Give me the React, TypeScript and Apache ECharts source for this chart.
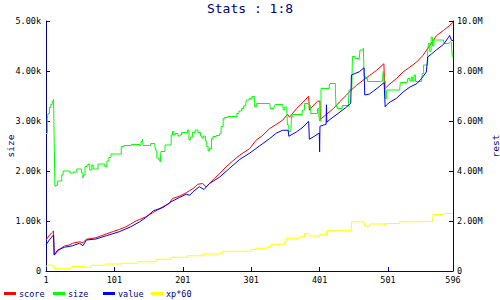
import React, { useEffect, useRef } from "react";
import * as echarts from "echarts";

// x positions are sample indices (1..596)
// size (left axis, thousands)
const sizeData: [number, number][] = [
  [1, 2.75], [3, 3.05], [4, 3.15], [6, 3.27], [8, 3.33], [10, 3.4], [12, 3.43], [13, 2.55], [14, 1.7],
  [16, 1.72], [18, 1.8], [24, 1.92], [26, 2.0], [36, 1.96], [41, 1.98], [46, 2.04], [53, 1.96], [55, 1.86],
  [56, 1.92], [58, 2.09], [61, 2.12], [63, 2.14], [65, 2.02], [68, 2.12], [70, 2.04], [77, 2.14], [87, 2.09],
  [90, 2.2], [93, 2.27], [96, 2.34], [111, 2.49], [115, 2.51], [126, 2.53], [138, 2.51], [140, 2.59],
  [142, 2.64], [143, 2.51], [154, 2.55], [160, 2.52], [161, 2.42], [163, 2.26], [166, 2.22], [168, 2.18],
  [169, 2.39], [175, 2.52], [184, 2.72], [186, 2.79], [188, 2.72], [190, 2.75], [194, 2.7], [197, 2.72],
  [199, 2.77], [208, 2.82], [210, 2.62], [212, 2.68], [215, 2.77], [219, 2.82], [223, 2.77], [227, 2.7],
  [229, 2.66], [231, 2.7], [234, 2.6], [236, 2.49], [238, 2.4], [240, 2.45], [243, 2.65], [245, 2.69],
  [250, 2.71], [255, 2.75], [257, 2.89], [260, 3.05], [262, 3.07], [267, 3.09], [280, 3.15], [283, 3.2],
  [287, 3.25], [290, 3.3], [293, 3.35], [294, 3.42], [298, 3.45], [302, 3.49], [306, 3.29], [309, 3.35],
  [328, 3.35], [329, 3.25], [334, 3.25], [335, 3.31], [336, 3.33], [347, 3.33], [348, 3.22], [350, 3.28],
  [353, 3.22], [354, 2.92], [356, 2.79], [359, 2.82], [360, 3.09], [362, 3.13], [375, 3.11], [376, 3.22],
  [379, 3.35], [384, 3.33], [386, 3.31], [388, 3.15], [396, 3.15], [398, 3.25], [400, 3.1], [401, 3.0],
  [403, 3.65], [415, 3.7], [416, 3.75], [422, 3.75], [424, 3.62], [425, 3.29], [427, 3.25], [434, 3.31],
  [443, 3.29], [444, 3.62], [448, 3.62], [449, 4.29], [453, 4.25], [459, 4.25], [460, 4.42], [465, 4.46],
  [466, 3.89], [468, 3.85], [471, 3.79], [490, 3.8], [493, 3.85], [494, 3.99], [495, 3.8], [497, 3.45],
  [499, 3.62], [518, 3.62], [519, 3.77], [529, 3.77], [530, 3.85], [533, 3.8], [535, 3.88], [537, 3.8],
  [539, 3.92], [541, 3.79], [550, 3.79], [551, 3.95], [553, 4.12], [557, 4.12], [559, 4.39], [560, 4.55],
  [562, 4.39], [564, 4.68], [566, 4.5], [568, 4.62], [582, 4.62], [583, 4.55], [590, 4.55], [591, 4.58],
  [593, 4.57], [594, 4.45], [595, 4.29], [596, 4.31],
];

// score (right axis, millions)
const scoreData: [number, number][] = [
  [1, 1.24], [5, 1.4], [9, 1.52], [12, 1.6], [13, 0.64], [18, 0.77], [23, 0.91], [28, 1.0], [35, 1.04],
  [40, 1.11], [50, 1.17], [55, 1.13], [60, 1.27], [74, 1.33], [89, 1.48], [98, 1.57], [108, 1.66],
  [118, 1.77], [125, 1.88], [133, 2.01], [138, 2.06], [147, 2.17], [157, 2.33], [164, 2.44], [172, 2.57],
  [181, 2.7], [186, 2.9], [196, 2.99], [206, 3.13], [216, 3.3], [223, 3.47], [230, 3.5], [235, 3.37],
  [240, 3.5], [247, 3.7], [255, 3.9], [264, 4.16], [274, 4.4], [284, 4.63], [299, 4.9], [308, 5.23],
  [318, 5.43], [328, 5.7], [338, 5.87], [347, 6.03], [354, 6.27], [357, 6.15], [367, 6.49], [377, 6.76],
  [385, 6.99], [386, 6.43], [391, 6.6], [398, 6.79], [401.5, 6.8], [402, 6.06], [411, 6.27], [421, 6.49],
  [430, 6.76], [440, 7.03], [447, 7.23], [455, 7.43], [464, 7.62], [474, 7.82], [484, 8.02], [495, 8.29],
  [496, 7.29], [504, 7.49], [513, 7.69], [523, 7.96], [533, 8.16], [543, 8.36], [552, 8.62], [562, 9.02],
  [572, 9.42], [582, 9.62], [591, 9.82], [596, 9.95],
];

// value (right axis, millions)
const valueData: [number, number][] = [
  [1, 1.04], [6, 1.25], [12, 1.44], [13, 0.64], [18, 0.84], [28, 0.95], [40, 1.01], [50, 1.11], [55, 1.01],
  [60, 1.24], [74, 1.28], [89, 1.41], [108, 1.57], [125, 1.77], [138, 1.97], [147, 2.14], [158, 2.41],
  [172, 2.54], [184, 2.77], [196, 2.94], [206, 3.07], [211, 3.03], [216, 3.17], [225, 3.37], [232, 3.26],
  [240, 3.5], [255, 3.76], [269, 4.1], [284, 4.46], [299, 4.72], [308, 4.9], [318, 5.1], [328, 5.3],
  [338, 5.52], [347, 5.63], [355, 5.63], [356, 5.39], [367, 5.56], [377, 5.76], [385, 5.99], [386, 5.27],
  [394, 5.4], [400.5, 5.52], [401, 4.76], [401.5, 5.79], [408, 5.85], [410.5, 5.87], [411, 6.65],
  [411.5, 5.95], [416, 6.06], [425, 6.24], [439, 6.53], [446.5, 6.71], [447.5, 7.84], [459, 7.97],
  [466, 8.13], [467, 7.04], [474, 7.08], [488, 7.37], [495.3, 7.54], [496.8, 6.57], [499, 6.65], [504, 6.76],
  [513, 6.9], [523, 7.16], [533, 7.36], [543, 7.49], [550, 7.7], [557, 7.96], [559, 8.56], [565, 8.69],
  [572, 8.85], [582, 9.06], [589, 9.33], [591, 9.42], [594, 9.22], [596, 9.22],
];

// xp*60 (right axis, millions)
const xpData: [number, number][] = [
  [1, 0.2], [4, 0.24], [10, 0.2], [13, 0.11], [38, 0.11], [39, 0.18], [55, 0.2], [58, 0.15], [67, 0.23],
  [89, 0.28], [111, 0.31], [135, 0.37], [162, 0.47], [184, 0.55], [208, 0.61], [230, 0.68], [255, 0.73],
  [260, 0.79], [301, 0.87], [308, 0.91], [325, 0.97], [330, 1.07], [350, 1.17], [352, 1.31], [372, 1.37],
  [379, 1.5], [385, 1.5], [386, 1.4], [401, 1.45], [411, 1.61], [447, 1.61], [448, 1.97], [466, 1.97],
  [467, 1.8], [474, 1.88], [494, 1.9], [496, 1.84], [498, 1.9], [518, 1.97], [540, 1.98], [566, 1.98],
  [567, 2.26], [582, 2.3], [596, 2.31],
];

const seriesNames = ["score", "size", "value", "xp*60"];
const seriesColors = ["#ff0000", "#00ff00", "#0000ff", "#ffff00"];
const titleText = "Stats : 1:8";
const leftAxisName = "size";
const rightAxisName = "rest";

const NAVY = "#000080";
const MONO = "DejaVu Sans Mono, monospace";

const toXY = (d: [number, number][]) => d.map(([i, v]) => [i - 1, v]);

export default function App() {
  const ref = useRef<HTMLDivElement>(null);
  useEffect(() => {
    if (!ref.current) return;
    const chart = echarts.init(ref.current, undefined, { renderer: "svg" });
    const legendLefts = [4, 53, 103, 151];
    chart.setOption({
      animation: false,
      backgroundColor: "#ffffff",
      title: {
        text: titleText,
        left: "center",
        top: 0,
        padding: [2, 0, 0, 0],
        textStyle: { fontFamily: MONO, fontSize: 13, fontWeight: "normal", color: NAVY },
      },
      legend: seriesNames.map((n, i) => ({
        data: [n],
        left: legendLefts[i],
        top: 289,
        padding: 0,
        icon: "rect",
        itemWidth: 12,
        itemHeight: 3,
        itemGap: 0,
        selectedMode: false,
        textStyle: { fontFamily: MONO, fontSize: 8.5, color: NAVY, padding: [0, 0, 0, -2] },
      })),
      grid: { left: 46, right: 47, top: 21, bottom: 29, containLabel: false, outerBoundsMode: "none" },
      xAxis: {
        type: "value",
        min: 0,
        max: 595,
        interval: 100,
        axisLine: { show: true, lineStyle: { color: NAVY, width: 1 } },
        axisTick: { show: true, inside: true, length: 4, lineStyle: { color: NAVY } },
        splitLine: { show: false },
        axisLabel: {
          margin: 4,
          fontFamily: MONO,
          fontSize: 8.5,
          color: "#000",
          formatter: (v: number) => String(v + 1),
        },
      },
      yAxis: [
        {
          type: "value",
          min: 0,
          max: 5,
          interval: 1,
          position: "left",
          name: leftAxisName,
          nameLocation: "middle",
          nameRotate: 90,
          nameGap: 31,
          nameMoveOverlap: false,
          nameTextStyle: { fontFamily: MONO, fontSize: 9.5, color: NAVY },
          axisLine: { show: true, lineStyle: { color: NAVY, width: 1 } },
          axisTick: { show: true, inside: true, length: 4, lineStyle: { color: NAVY } },
          splitLine: { show: false },
          axisLabel: {
            margin: 5,
            fontFamily: MONO,
            fontSize: 8.5,
            color: "#000",
            formatter: (v: number) => (v === 0 ? "0" : v.toPrecision(3) + "k"),
          },
        },
        {
          type: "value",
          min: 0,
          max: 10,
          interval: 2,
          position: "right",
          name: rightAxisName,
          nameLocation: "middle",
          nameRotate: 90,
          nameGap: 37,
          nameMoveOverlap: false,
          nameTextStyle: { fontFamily: MONO, fontSize: 9.5, color: NAVY },
          axisLine: { show: true, lineStyle: { color: NAVY, width: 1 } },
          axisTick: { show: true, inside: true, length: 4, lineStyle: { color: NAVY } },
          splitLine: { show: false },
          axisLabel: {
            margin: 4,
            fontFamily: MONO,
            fontSize: 8.5,
            color: "#000",
            formatter: (v: number) => (v === 0 ? "0" : v.toPrecision(3) + "M"),
          },
        },
      ],
      series: [
        {
          name: seriesNames[0],
          type: "line",
          yAxisIndex: 1,
          data: toXY(scoreData),
          symbol: "none",
          color: seriesColors[0],
          lineStyle: { width: 1, color: seriesColors[0] },
          z: 2,
        },
        {
          name: seriesNames[1],
          type: "line",
          yAxisIndex: 0,
          step: "end",
          data: toXY(sizeData),
          symbol: "none",
          color: seriesColors[1],
          lineStyle: { width: 1, color: seriesColors[1] },
          z: 3,
        },
        {
          name: seriesNames[2],
          type: "line",
          yAxisIndex: 1,
          data: toXY(valueData),
          symbol: "none",
          color: seriesColors[2],
          lineStyle: { width: 1, color: seriesColors[2] },
          z: 4,
        },
        {
          name: seriesNames[3],
          type: "line",
          yAxisIndex: 1,
          step: "end",
          data: toXY(xpData),
          symbol: "none",
          color: seriesColors[3],
          lineStyle: { width: 1, color: seriesColors[3] },
          z: 5,
        },
      ],
    });
    return () => chart.dispose();
  }, []);
  return (
    <div
      ref={ref}
      style={{ position: "fixed", left: 0, top: 0, width: 500, height: 300, background: "#fff" }}
    />
  );
}
